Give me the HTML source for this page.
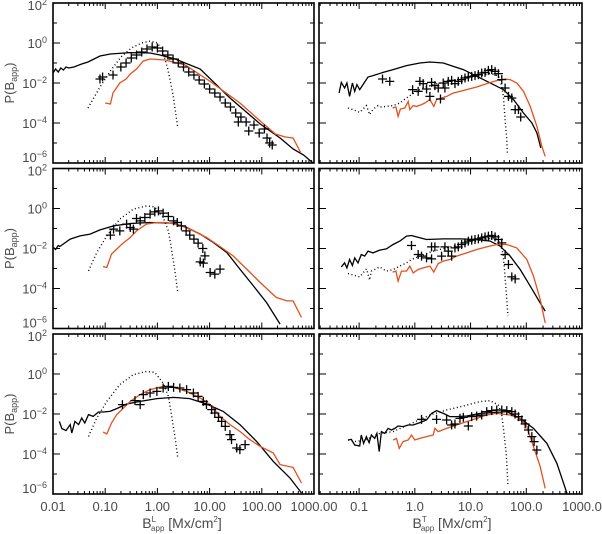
<!DOCTYPE html>
<html><head><meta charset="utf-8"><style>
html,body{margin:0;padding:0;background:#fff;}
svg{display:block;font-family:"Liberation Sans",sans-serif;}
</style></head><body>
<svg id="chart" width="602" height="534" viewBox="0 0 602 534" xmlns="http://www.w3.org/2000/svg"></svg>
<script>
// ---- data (log10 of B_app and log10 of P) ----
const p1BlackLogB=[-2,-1.95,-1.9,-1.85,-1.8,-1.75,-1.7,-1.6,-1.45,-1.33,-1.1,-0.9,-0.52,-0.14,0.05,0.34,0.82,1.39,1.97,2.35,2.6,2.8,2.98];
const p1BlackLogP=[-1.5,-1.3,-1.45,-1.25,-1.35,-1.2,-1.25,-1.2,-1.05,-0.95,-0.65,-0.55,-0.48,-0.5,-0.6,-0.8,-1.3,-2.75,-4.05,-4.75,-5.3,-5.6,-6];
const p1DotLogB=[-1.33,-1.1,-0.9,-0.7,-0.5,-0.3,-0.14,0,0.1,0.2,0.3,0.39];
const p1DotLogP=[-3.25,-2.2,-1.4,-0.7,-0.25,0.0,0.1,0.0,-0.4,-1.3,-2.6,-4.25];
const p1RedLogB=[-1.0,-0.9,-0.85,-0.72,-0.6,-0.52,-0.4,-0.27,-0.14,0.15,0.53,1.0,1.58,1.97,2.26,2.45,2.6,2.75];
const p1RedLogP=[-3.0,-3.05,-2.5,-2.0,-1.8,-1.55,-1.3,-0.9,-0.8,-0.85,-1.1,-1.9,-3.0,-3.9,-4.55,-4.7,-4.75,-5.5];
const p1ObsLogB=[-1.1,-1.05,-0.85,-0.7,-0.6,-0.5,-0.4,-0.3,-0.2,-0.1,0,0.1,0.2,0.3,0.4,0.5,0.6,0.7,0.8,0.9,1.0,1.1,1.2,1.3,1.4,1.5,1.55,1.6,1.7,1.75,1.85,1.95,2.05,2.1,2.15,2.2];
const p1ObsLogP=[-1.8,-1.7,-1.6,-1.2,-1.0,-0.75,-0.6,-0.45,-0.3,-0.2,-0.25,-0.4,-0.6,-0.8,-1.0,-1.2,-1.45,-1.6,-1.85,-2.05,-2.3,-2.5,-2.7,-3.0,-3.2,-3.5,-3.95,-3.7,-3.95,-4.4,-4.1,-4.5,-4.3,-4.75,-5.0,-5.1];

const p2BlackLogB=[-1.99,-1.95,-1.9,-1.87,-1.67,-1.48,-1.29,-1.10,-0.84,-0.52,-0.14,0.31,0.56,0.82,1.07,1.33,1.58,1.84,2.09,2.35];
const p2BlackLogP=[-1.95,-2.05,-1.85,-1.9,-1.53,-1.37,-1.28,-1.07,-0.87,-0.75,-0.7,-0.73,-0.95,-1.28,-1.7,-2.2,-3.03,-3.87,-4.7,-5.78];
const p2DotLogB=[-1.32,-1.16,-0.97,-0.72,-0.46,-0.21,-0.05,0.11,0.21,0.27,0.34,0.39];
const p2DotLogP=[-3.12,-2.2,-1.37,-0.53,-0.03,0.13,0.08,-0.45,-1.12,-2.03,-3.2,-4.2];
const p2RedLogB=[-1.04,-0.97,-0.88,-0.78,-0.68,-0.52,-0.40,-0.21,-0.01,0.18,0.43,0.69,0.94,1.20,1.45,1.71,1.97,2.16,2.28,2.48,2.60,2.76];
const p2RedLogP=[-2.9,-2.95,-2.28,-2.03,-1.78,-1.45,-1.12,-0.78,-0.7,-0.7,-0.83,-1.12,-1.45,-1.9,-2.37,-3.03,-3.7,-4.17,-4.45,-4.62,-4.62,-5.45];
const p2ObsLogB=[-0.90,-0.84,-0.72,-0.59,-0.52,-0.46,-0.40,-0.33,-0.24,-0.14,-0.05,0.02,0.11,0.21,0.31,0.38,0.46,0.55,0.62,0.70,0.78,0.87,0.91,0.88,0.82,1.01,1.10,1.20];
const p2ObsLogP=[-1.33,-1.03,-1.12,-0.78,-0.95,-1.03,-0.5,-0.62,-0.45,-0.28,-0.17,-0.12,-0.23,-0.4,-0.62,-0.7,-0.87,-1.12,-1.33,-1.53,-1.73,-2.0,-2.37,-2.73,-2.67,-3.2,-3.28,-3.03];

const p3BlackLogB=[-1.88,-1.83,-1.75,-1.67,-1.64,-1.58,-1.51,-1.45,-1.39,-1.32,-1.23,-1.13,-1.04,-0.91,-0.78,-0.59,-0.33,-0.01,0.31,0.62,0.94,1.26,1.58,1.9,2.22,2.54,2.76];
const p3BlackLogP=[-2.37,-2.73,-2.83,-2.53,-2.95,-2.37,-2.53,-2.2,-2.45,-2.03,-2.12,-1.9,-1.9,-1.87,-1.73,-1.5,-1.37,-1.23,-1.17,-1.23,-1.5,-1.87,-2.53,-3.37,-4.37,-5.2,-5.95];
const p3DotLogB=[-1.32,-1.16,-0.97,-0.72,-0.46,-0.21,-0.05,0.11,0.21,0.27,0.34,0.39];
const p3DotLogP=[-3.12,-2.2,-1.37,-0.53,-0.03,0.13,0.08,-0.45,-1.12,-2.03,-3.2,-4.2];
const p3RedLogB=[-1.04,-0.97,-0.88,-0.78,-0.65,-0.52,-0.33,-0.14,0.11,0.31,0.56,0.82,1.01,1.2,1.39,1.58,1.77,1.97,2.22,2.35,2.6,2.76];
const p3RedLogP=[-2.9,-3.0,-2.45,-2.03,-1.7,-1.37,-1.03,-0.78,-0.62,-0.67,-0.87,-1.2,-1.53,-2.12,-2.53,-2.87,-3.28,-3.62,-3.95,-4.53,-4.67,-5.45];
const p3ObsLogB=[-0.67,-0.43,-0.33,-0.27,-0.14,-0.01,0.11,0.21,0.31,0.43,0.56,0.69,0.78,0.88,0.94,1.04,1.1,1.17,1.23,1.3,1.39,1.42,1.52,1.58,1.68];
const p3ObsLogP=[-1.53,-1.33,-1.53,-1.03,-0.95,-0.87,-0.7,-0.62,-0.67,-0.7,-0.78,-0.95,-1.12,-1.37,-1.53,-1.78,-1.95,-2.17,-2.37,-2.62,-3.03,-3.28,-3.7,-3.78,-3.53];

const p4BlackLogB=[-1.36,-1.32,-1.26,-1.22,-1.17,-1.12,-1.08,-1.04,-0.99,-0.93,-0.84,-0.75,-0.57,-0.39,-0.15,0.09,0.27,0.51,0.69,0.87,1.05,1.23,1.41,1.59,1.77,1.95,2.1,2.19,2.26];
const p4BlackLogP=[-2.5,-1.97,-2.25,-2.0,-2.67,-2.0,-2.42,-2.08,-2.33,-2.08,-1.7,-1.63,-1.47,-1.33,-1.13,-1.0,-0.95,-1.0,-1.17,-1.33,-1.58,-1.83,-2.08,-2.33,-2.83,-3.5,-4.0,-4.5,-5.25];
const p4DotLogB=[-1.2,-1.14,-0.99,-0.87,-0.81,-0.78,-0.72,-0.66,-0.6,-0.51,-0.39,-0.27,-0.15,-0.06,0.03,0.15,0.33,0.51,0.81,1.11,1.35,1.5,1.56,1.59,1.62,1.65,1.66];
const p4DotLogP=[-3.25,-3.3,-3.47,-3.13,-3.58,-3.42,-3.25,-3.13,-3.2,-3.17,-3.13,-3.0,-2.75,-2.58,-2.42,-2.25,-2.08,-1.97,-1.8,-1.67,-1.53,-1.63,-2.17,-2.67,-3.83,-4.83,-5.5];
const p4RedLogB=[-0.4,-0.34,-0.3,-0.26,-0.18,-0.12,-0.09,-0.03,0.03,0.12,0.18,0.27,0.34,0.39,0.48,0.57,0.69,0.81,0.93,1.11,1.29,1.47,1.62,1.71,1.83,1.95,2.07,2.19,2.28,2.34];
const p4RedLogP=[-3.25,-3.2,-3.67,-3.3,-3.25,-2.92,-3.33,-3.13,-3.17,-3.08,-3.0,-2.83,-3.17,-2.83,-2.75,-2.67,-2.5,-2.42,-2.33,-2.2,-2.03,-1.88,-1.8,-1.83,-2.0,-2.42,-3.17,-4.17,-5.17,-5.67];
const p4ObsLogB=[-0.58,-0.45,-0.04,0.06,0.09,0.15,0.21,0.27,0.3,0.36,0.42,0.46,0.51,0.54,0.6,0.66,0.72,0.78,0.84,0.9,0.96,1.02,1.08,1.14,1.2,1.26,1.32,1.38,1.44,1.5,1.56,1.62,1.68,1.74,1.8,1.86,1.9];
const p4ObsLogP=[-1.8,-1.92,-2.33,-2.42,-1.92,-2.03,-2.3,-2.67,-1.97,-2.13,-2.25,-2.8,-2.0,-2.25,-1.92,-1.87,-2.03,-1.92,-1.83,-1.75,-1.7,-1.67,-1.63,-1.58,-1.5,-1.47,-1.37,-1.33,-1.42,-1.53,-1.83,-2.25,-2.67,-2.75,-3.33,-3.33,-3.7];

const p5BlackLogB=[-1.32,-1.26,-1.22,-1.17,-1.12,-1.08,-1.02,-0.96,-0.9,-0.84,-0.75,-0.63,-0.51,-0.39,-0.27,-0.15,-0.06,0.03,0.21,0.51,0.81,1.11,1.35,1.53,1.71,1.89,2.07,2.25,2.34];
const p5BlackLogP=[-2.92,-2.72,-2.97,-2.55,-2.85,-2.47,-2.72,-2.3,-2.38,-2.13,-2.22,-2.08,-2.02,-1.8,-1.63,-1.38,-1.35,-1.42,-1.55,-1.52,-1.52,-1.55,-1.63,-1.88,-2.38,-3.05,-3.88,-4.72,-5.13];
const p5DotLogB=[-1.2,-0.99,-0.87,-0.81,-0.78,-0.72,-0.63,-0.51,-0.39,-0.27,-0.15,-0.06,0.09,0.33,0.63,0.93,1.23,1.44,1.53,1.58,1.61,1.65,1.67];
const p5DotLogP=[-3.25,-3.42,-3.02,-3.58,-3.13,-3.05,-2.92,-3.13,-3.05,-2.88,-2.72,-2.55,-2.38,-2.13,-1.92,-1.72,-1.55,-1.47,-1.72,-2.22,-3.05,-4.55,-5.38];
const p5RedLogB=[-0.4,-0.34,-0.3,-0.24,-0.15,-0.09,-0.03,0.06,0.15,0.27,0.34,0.42,0.51,0.63,0.75,0.93,1.11,1.29,1.47,1.65,1.83,2.01,2.13,2.25,2.34];
const p5RedLogP=[-3.18,-3.13,-3.63,-3.13,-3.13,-2.88,-3.22,-3.05,-2.97,-2.88,-3.18,-2.75,-2.63,-2.55,-2.38,-2.22,-2.05,-1.92,-1.8,-1.8,-1.97,-2.55,-3.38,-4.55,-5.72];
const p5ObsLogB=[-0.06,0.06,0.12,0.21,0.3,0.3,0.36,0.48,0.54,0.6,0.66,0.72,0.78,0.84,0.9,0.96,1.02,1.08,1.14,1.2,1.26,1.32,1.38,1.44,1.5,1.56,1.62,1.68,1.74,1.8];
const p5ObsLogP=[-1.85,-2.3,-2.38,-2.47,-2.52,-1.92,-1.92,-2.38,-1.92,-2.13,-2.38,-1.97,-1.92,-1.8,-1.72,-1.63,-1.58,-1.55,-1.52,-1.47,-1.42,-1.38,-1.35,-1.42,-1.55,-1.72,-2.3,-2.8,-3.42,-3.52];

const p6BlackLogB=[-1.2,-1.14,-1.08,-0.99,-0.96,-0.92,-0.87,-0.82,-0.78,-0.72,-0.68,-0.64,-0.6,-0.54,-0.48,-0.42,-0.36,-0.3,-0.21,-0.12,-0.03,0.09,0.21,0.3,0.39,0.51,0.63,0.75,0.93,1.17,1.41,1.65,1.89,2.13,2.37,2.55,2.73];
const p6BlackLogP=[-3.3,-3.27,-3.55,-3.6,-3.05,-3.47,-3.13,-3.43,-3.05,-3.22,-2.97,-3.88,-2.88,-2.97,-2.72,-2.8,-2.72,-2.6,-2.63,-2.55,-2.55,-2.43,-2.3,-1.97,-1.83,-1.97,-2.13,-2.13,-2.1,-1.97,-1.93,-1.88,-2.22,-2.72,-3.47,-4.47,-5.97];
const p6DotLogB=[-1.2,-1.05,-0.87,-0.63,-0.39,-0.03,0.27,0.57,0.87,1.17,1.35,1.5,1.56,1.6,1.64,1.67];
const p6DotLogP=[-3.3,-3.38,-3.27,-2.97,-2.88,-2.43,-2.05,-1.8,-1.6,-1.38,-1.33,-1.55,-2.05,-2.97,-3.97,-5.5];
const p6RedLogB=[-0.39,-0.33,-0.28,-0.21,-0.12,-0.06,0.0,0.09,0.21,0.33,0.36,0.42,0.57,0.75,0.93,1.11,1.29,1.47,1.71,1.89,2.01,2.13,2.25,2.34];
const p6RedLogP=[-3.3,-3.22,-3.72,-3.38,-3.3,-3.05,-3.3,-3.22,-3.13,-3.05,-2.72,-2.88,-2.72,-2.55,-2.38,-2.22,-2.05,-1.97,-2.05,-2.22,-2.63,-3.63,-4.63,-5.72];
const p6ObsLogB=[0.12,0.39,0.57,0.66,0.72,0.81,0.87,0.96,1.02,1.11,1.2,1.29,1.38,1.47,1.56,1.65,1.74,1.8,1.86,1.92,1.98,2.04,2.1,2.14,2.19];
const p6ObsLogP=[-2.27,-2.27,-2.3,-2.55,-2.5,-2.22,-2.17,-2.6,-2.13,-2.1,-2.05,-1.88,-1.83,-1.8,-1.8,-1.83,-1.88,-2.0,-2.13,-2.3,-2.5,-2.8,-3.13,-3.38,-3.8];

const leftTickLabels=["0.01","0.10","1.00","10.00","100.00","1000.00"];
const rightTickLabels=["0.1","1.0","10.0","100.0","1000.0"];
const yTickExps=["2","0","-2","-4","-6"];

// ---- drawing ----
const NS="http://www.w3.org/2000/svg";
const svg=document.getElementById('chart');
function el(tag,attrs,parent){const e=document.createElementNS(NS,tag);for(const k in attrs)e.setAttribute(k,attrs[k]);(parent||svg).appendChild(e);return e;}
const RED="#e5501e";
const TXT="#4a4a4a";
const tops=[3,168.5,334];
const cols=[{x0:53,x1:314,lmin:-2,lmax:3,side:'left'},{x0:319,x1:582,lmin:-1.72,lmax:3,side:'right'}];
const H=160;
const panels=[
 [p1BlackLogB,p1BlackLogP,p1DotLogB,p1DotLogP,p1RedLogB,p1RedLogP,p1ObsLogB,p1ObsLogP],
 [p4BlackLogB,p4BlackLogP,p4DotLogB,p4DotLogP,p4RedLogB,p4RedLogP,p4ObsLogB,p4ObsLogP],
 [p2BlackLogB,p2BlackLogP,p2DotLogB,p2DotLogP,p2RedLogB,p2RedLogP,p2ObsLogB,p2ObsLogP],
 [p5BlackLogB,p5BlackLogP,p5DotLogB,p5DotLogP,p5RedLogB,p5RedLogP,p5ObsLogB,p5ObsLogP],
 [p3BlackLogB,p3BlackLogP,p3DotLogB,p3DotLogP,p3RedLogB,p3RedLogP,p3ObsLogB,p3ObsLogP],
 [p6BlackLogB,p6BlackLogP,p6DotLogB,p6DotLogP,p6RedLogB,p6RedLogP,p6ObsLogB,p6ObsLogP]
];
panels.forEach((d,i)=>{
  const row=Math.floor(i/2), c=cols[i%2], top=tops[row];
  const g=el('g',{});
  
  
  const cid='clip'+i;
  const cp=el('clipPath',{id:cid},g); el('rect',{x:c.x0,y:top,width:c.x1-c.x0,height:H},cp);
  const xs=v=>c.x0+(v-c.lmin)/(c.lmax-c.lmin)*(c.x1-c.x0);
  const ys=v=>top+(2-v)/8*H;
  const pts=(X,Y)=>X.map((v,k)=>xs(v).toFixed(1)+','+ys(Y[k]).toFixed(1)).join(' ');
  const plot=el('g',{'clip-path':'url(#'+cid+')'},g);
  const bl=el('polyline',{points:pts(d[0],d[1]),fill:'none',stroke:'#000','stroke-width':1.3},plot);
  
  
  const dl=el('polyline',{points:pts(d[2],d[3]),fill:'none',stroke:'#000','stroke-width':1.4,'stroke-dasharray':'1 2.6'},plot);
  
  
  const rl=el('polyline',{points:pts(d[4],d[5]),fill:'none',stroke:RED,'stroke-width':1.3},plot);
  
  
  d[6].forEach((v,k)=>{
    const x=xs(v),y=ys(d[7][k]);
    const p=el('path',{d:`M${x-4.5},${y}H${x+4.5}M${x},${y-4.5}V${y+4.5}`,stroke:'#000','stroke-width':1.3,fill:'none'},plot);
    
    
  });
  // ticks
  let tk='';
  for(let e=Math.ceil(c.lmin)-1;e<=c.lmax;e++){
    for(let m=1;m<10;m++){
      const lv=e+Math.log10(m); if(lv<c.lmin-1e-6||lv>c.lmax+1e-6)continue;
      const x=xs(lv), L=m===1?6:3;
      tk+=`M${x},${top+H}v${-L}M${x},${top}v${L}`;
    }
  }
  for(let e=-6;e<=2;e++){const y=ys(e),L=(e%2===0)?7:4;tk+=`M${c.x0},${y}h${L}M${c.x1},${y}h${-L}`;}
  const t=el('path',{d:tk,stroke:'#000','stroke-width':1,fill:'none'},g);
  
  
  const b=el('rect',{x:c.x0,y:top,width:c.x1-c.x0,height:H,fill:'none',stroke:'#000','stroke-width':1.6},g);
  
  
  // y labels on left column
  if(c.side==='left'){
    yTickExps.forEach(ex=>{
      const v=+ex, y=ys(v);
      const off=v===-6?-1:(v===2?7:5);
      const tx=el('text',{x:47,y:y+off,'text-anchor':'end','font-size':13,fill:TXT},g);
      
      
      tx.innerHTML='10<tspan dy="-5" font-size="9">'+(ex.startsWith('-')?'\u2212'+ex.slice(1):ex)+'</tspan>';
    });
    const yt=el('text',{transform:`translate(14,${top+H/2}) rotate(-90)`,'text-anchor':'middle','font-size':13,fill:TXT},g);
    
    
    yt.innerHTML='P(B<tspan dy="3" font-size="9">app</tspan><tspan dy="-3">)</tspan>';
  }
  if(row===2){
    const labs=c.side==='left'?leftTickLabels:rightTickLabels;
    const start=c.side==='left'?-2:-1;
    labs.forEach((s,k)=>{
      const tx=el('text',{x:xs(start+k),y:511,'text-anchor':'middle','font-size':13,fill:TXT},g);
      
      
      tx.textContent=s;
    });
    const cx=c.side==='left'?182:452;
    const xt=el('text',{x:cx,y:528,'text-anchor':'middle','font-size':14,fill:TXT},g);
    
    
    xt.innerHTML='B<tspan dy="-6" font-size="8">'+(c.side==='left'?'L':'T')+'</tspan><tspan dy="9" dx="-5" font-size="8">app</tspan><tspan dy="-3"> [Mx/cm</tspan><tspan dy="-6" font-size="8">2</tspan><tspan dy="6">]</tspan>';
  }
});
</script>
</body></html>
